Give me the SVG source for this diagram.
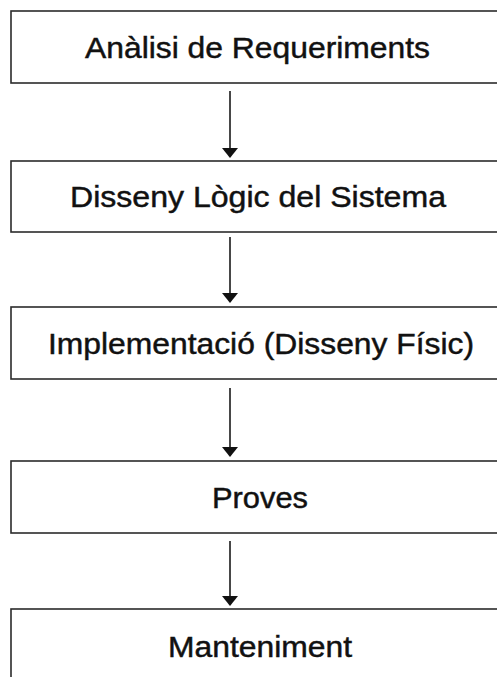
<svg xmlns="http://www.w3.org/2000/svg" width="497" height="677" viewBox="0 0 497 677">
  <style>
    .box { fill: #ffffff; stroke: #2b2b2b; stroke-width: 1.6; }
    .label { font-family: "Liberation Sans", Arial, Helvetica, sans-serif; font-size: 29px; fill: #111111; stroke: #111111; stroke-width: 0.45; text-anchor: middle; }
    .link { stroke: #1a1a1a; stroke-width: 1.6; fill: none; }
    .head { fill: #111111; }
  </style>
  <rect width="497" height="677" fill="#ffffff"/>

  <g id="node-analisi">
    <rect class="box" x="11" y="11" width="493" height="72"/>
    <text class="label" x="257.5" y="58" textLength="345" lengthAdjust="spacingAndGlyphs">Anàlisi de Requeriments</text>
  </g>
  <g id="node-disseny-logic">
    <rect class="box" x="11" y="161" width="493" height="71"/>
    <text class="label" x="258" y="207" textLength="376" lengthAdjust="spacingAndGlyphs">Disseny Lògic del Sistema</text>
  </g>
  <g id="node-implementacio">
    <rect class="box" x="11" y="307" width="493" height="72"/>
    <text class="label" x="261" y="354" textLength="426" lengthAdjust="spacingAndGlyphs">Implementació (Disseny Físic)</text>
  </g>
  <g id="node-proves">
    <rect class="box" x="11" y="461" width="493" height="72"/>
    <text class="label" x="260" y="508" textLength="96" lengthAdjust="spacingAndGlyphs">Proves</text>
  </g>
  <g id="node-manteniment">
    <rect class="box" x="11" y="609" width="493" height="80"/>
    <text class="label" x="260" y="657" textLength="184" lengthAdjust="spacingAndGlyphs">Manteniment</text>
  </g>

  <g id="connectors">
    <line class="link" x1="230" y1="91" x2="230" y2="150"/>
    <polygon class="head" points="222,148 238,148 230,158"/>
    <line class="link" x1="230" y1="237" x2="230" y2="295"/>
    <polygon class="head" points="222,293 238,293 230,303"/>
    <line class="link" x1="230" y1="388" x2="230" y2="449"/>
    <polygon class="head" points="222,447 238,447 230,457"/>
    <line class="link" x1="230" y1="541" x2="230" y2="598"/>
    <polygon class="head" points="222,596 238,596 230,606"/>
  </g>
</svg>
